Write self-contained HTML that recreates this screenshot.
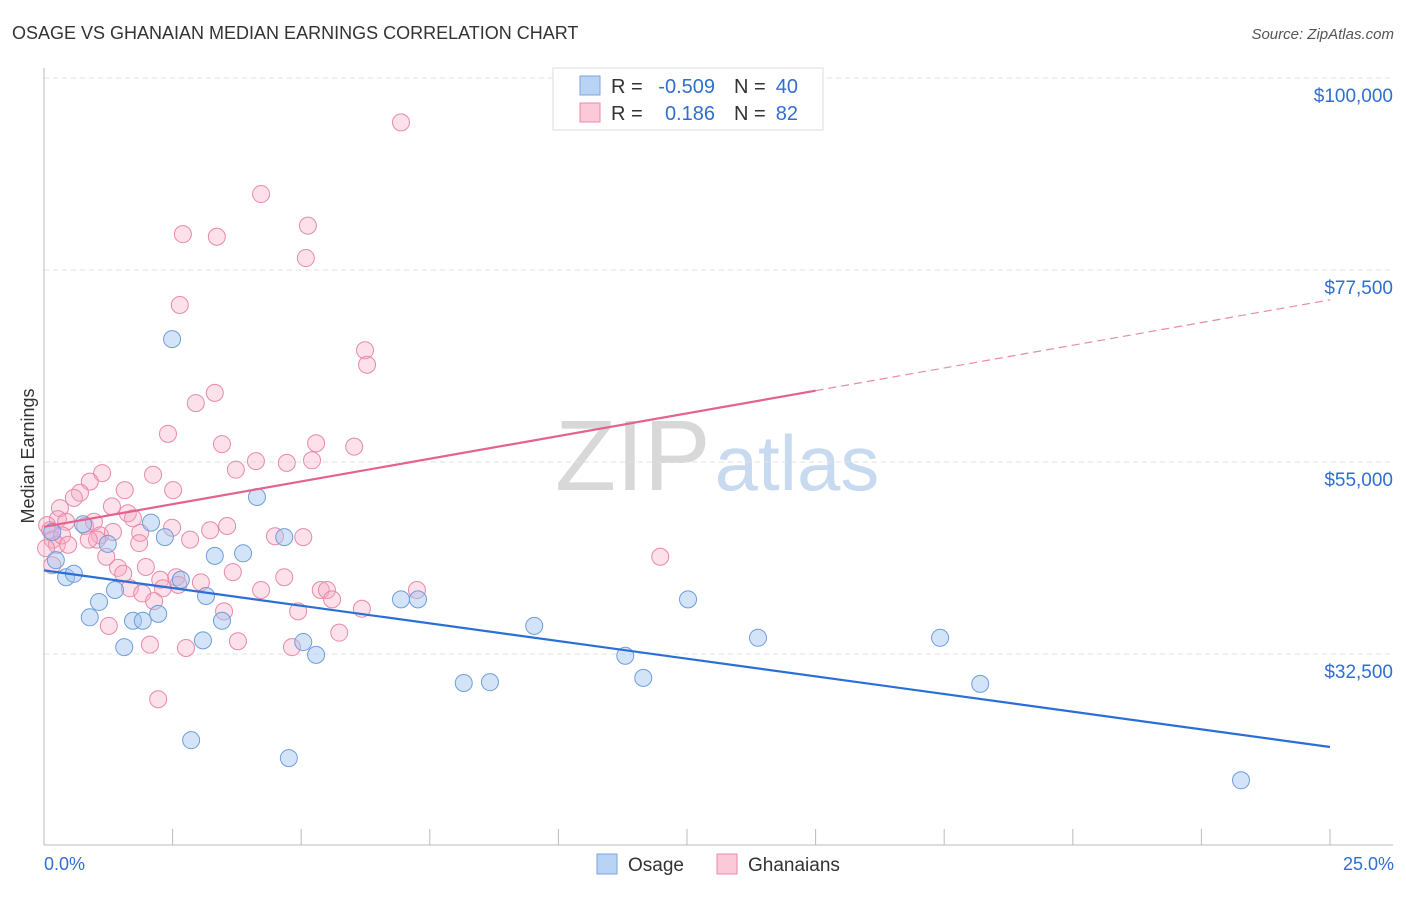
<!DOCTYPE html>
<html><head><meta charset="utf-8"><style>
body{margin:0;background:#fff;font-family:"Liberation Sans",sans-serif;}
svg text{font-family:"Liberation Sans",sans-serif;}
</style></head><body>
<svg id="chart" width="1406" height="892" xmlns="http://www.w3.org/2000/svg">
<text x="12" y="39" font-size="18" fill="#333">OSAGE VS GHANAIAN MEDIAN EARNINGS CORRELATION CHART</text>
<text x="1394" y="39" font-size="15" fill="#555" text-anchor="end" font-style="italic">Source: ZipAtlas.com</text>
<text x="555" y="490" font-size="100" fill="#ddd" font-family="Liberation Serif"><tspan fill="#d8d8d8">ZIP</tspan><tspan fill="#c8daf0" font-family="Liberation Sans" font-size="78" dx="4">atlas</tspan></text>
<text transform="translate(34,456) rotate(-90)" font-size="18" fill="#333" text-anchor="middle">Median Earnings</text>
<g id="grid"></g><g id="axes"></g><g id="pts"></g><g id="lines"></g>
<g>
<rect x="553" y="68" width="270" height="62" fill="#fff" stroke="#ddd"/>
<rect x="580" y="76" width="20" height="19" fill="#b9d3f5" stroke="#7aa6e0"/>
<rect x="580" y="103" width="20" height="19" fill="#fbc9d8" stroke="#e98aa8"/>
<text x="611" y="93" font-size="20" fill="#333">R =</text>
<text x="715" y="93" font-size="20" fill="#2f6fd0" text-anchor="end">-0.509</text>
<text x="734" y="93" font-size="20" fill="#333">N =</text>
<text x="798" y="93" font-size="20" fill="#2f6fd0" text-anchor="end">40</text>
<text x="611" y="120" font-size="20" fill="#333">R =</text>
<text x="715" y="120" font-size="20" fill="#2f6fd0" text-anchor="end">0.186</text>
<text x="734" y="120" font-size="20" fill="#333">N =</text>
<text x="798" y="120" font-size="20" fill="#2f6fd0" text-anchor="end">82</text>
</g>
<g>
<rect x="597" y="854" width="20" height="20" fill="#b9d3f5" stroke="#7aa6e0"/>
<text x="628" y="871" font-size="19" fill="#333">Osage</text>
<rect x="717" y="854" width="20" height="20" fill="#fbc9d8" stroke="#e98aa8"/>
<text x="748" y="871" font-size="19" fill="#333">Ghanaians</text>
</g>
<text x="44" y="870" font-size="18" fill="#2f6fd0">0.0%</text>
<text x="1394" y="870" font-size="18" fill="#2f6fd0" text-anchor="end">25.0%</text>
</svg>
<script>
const yTicks=[32500,55000,77500,100000];
const yTickLabels=["$32,500","$55,000","$77,500","$100,000"];
const xTicks=[0,2.5,5,7.5,10,12.5,15,17.5,20,22.5,25];
const osageX=[0.16,0.23,0.43,0.58,0.76,0.89,1.07,1.24,1.38,1.56,1.73,1.92,2.08,2.22,2.35,2.49,2.66,2.86,3.09,3.15,3.32,3.46,3.87,4.14,4.67,4.76,5.04,5.29,6.94,7.27,8.16,8.67,9.53,11.30,11.65,12.52,13.88,17.42,18.20,23.27];
const osageY=[46.8,43.5,41.5,41.9,47.7,36.8,38.6,45.4,40.0,33.3,36.4,36.4,47.9,37.2,46.2,69.4,41.2,22.4,34.1,39.3,44.0,36.4,44.3,50.9,46.2,20.3,33.9,32.4,38.9,38.9,29.1,29.2,35.8,32.3,29.7,38.9,34.4,34.4,29.0,17.7];
const ghX=[6.94,4.22,5.13,2.70,3.36,5.09,2.64,6.24,6.28,3.32,2.95,2.41,3.46,5.29,6.03,3.73,4.12,4.72,5.21,1.13,2.12,1.57,0.89,0.70,0.58,0.31,1.32,1.63,1.73,2.51,0.27,0.43,0.06,0.12,0.17,0.25,0.35,0.47,0.80,0.97,1.09,1.03,0.87,1.34,1.87,2.49,3.23,3.56,2.84,1.85,4.49,5.04,1.21,1.44,1.54,1.98,2.26,2.57,2.61,2.31,3.05,3.67,1.67,1.91,2.14,4.22,4.67,5.38,5.50,5.60,7.25,4.94,3.50,6.18,1.26,2.06,2.76,3.77,4.82,5.74,2.22,11.98,0.04,0.16];
const ghY=[94.8,86.4,82.7,81.7,81.4,78.9,73.4,68.1,66.4,63.1,61.9,58.3,57.1,57.2,56.8,54.1,55.1,54.9,55.2,53.7,53.5,51.7,52.7,51.4,50.8,49.6,49.8,49.0,48.4,51.7,48.3,48.0,47.6,47.0,45.9,45.3,46.4,45.3,47.5,48.0,46.4,45.9,45.9,46.8,46.7,47.3,47.0,47.5,45.9,45.5,46.3,46.2,43.9,42.6,41.9,42.7,41.2,41.5,40.6,40.2,40.9,42.1,40.2,39.6,38.7,40.0,41.5,40.0,40.0,38.9,40.0,37.5,37.5,37.8,35.8,33.6,33.2,34.0,33.3,35.0,27.2,43.9,44.9,42.9];
const osageTrend=[42.3,21.6];
const ghTrend=[47.4,74.0];
const ghSolidEnd=15;
const X=v=>44+v/25*1286;
const Y=k=>462-(k*1000-55000)/22500*192;
const NS="http://www.w3.org/2000/svg";
function mk(p,t,a){const e=document.createElementNS(NS,t);for(const k in a)e.setAttribute(k,a[k]);p.appendChild(e);return e;}
const grid=document.getElementById('grid'),axes=document.getElementById('axes'),pts=document.getElementById('pts'),lines=document.getElementById('lines');
yTicks.forEach((t,i)=>{const y=Y(t/1000);
const g=mk(grid,'line',{x1:44,x2:1393,y1:y,y2:y,stroke:'#e2e2e2','stroke-dasharray':'5,4'});


const l=mk(grid,'text',{x:1393,y:y+24,'font-size':19,fill:'#2f6fd0','text-anchor':'end'});l.textContent=yTickLabels[i];

});
const ax=mk(axes,'line',{x1:44,x2:44,y1:68,y2:845,stroke:'#bbb'});


const bx=mk(axes,'line',{x1:44,x2:1393,y1:845,y2:845,stroke:'#bbb'});


xTicks.forEach(t=>{const x=X(t);const e=mk(axes,'line',{x1:x,x2:x,y1:829,y2:845,stroke:'#bbb'});

});
ghX.forEach((x,i)=>{const c=mk(pts,'circle',{cx:X(x),cy:Y(ghY[i]),r:8.5,fill:'rgba(245,170,195,0.35)',stroke:'#e98aa8','stroke-width':1});

});
osageX.forEach((x,i)=>{const c=mk(pts,'circle',{cx:X(x),cy:Y(osageY[i]),r:8.5,fill:'rgba(160,195,240,0.45)',stroke:'#6f9ddc','stroke-width':1});

});
const bl=mk(lines,'line',{x1:X(0),y1:Y(osageTrend[0]),x2:X(25),y2:Y(osageTrend[1]),stroke:'#2a6fd6','stroke-width':2.2});


const midY=ghTrend[0]+(ghTrend[1]-ghTrend[0])*ghSolidEnd/25;
const pl=mk(lines,'line',{x1:X(0),y1:Y(ghTrend[0]),x2:X(ghSolidEnd),y2:Y(midY),stroke:'#e5628c','stroke-width':2.2});


const pd=mk(lines,'line',{x1:X(ghSolidEnd),y1:Y(midY),x2:X(25),y2:Y(ghTrend[1]),stroke:'#e98aa8','stroke-width':1.2,'stroke-dasharray':'8,5'});


</script>
</body></html>
